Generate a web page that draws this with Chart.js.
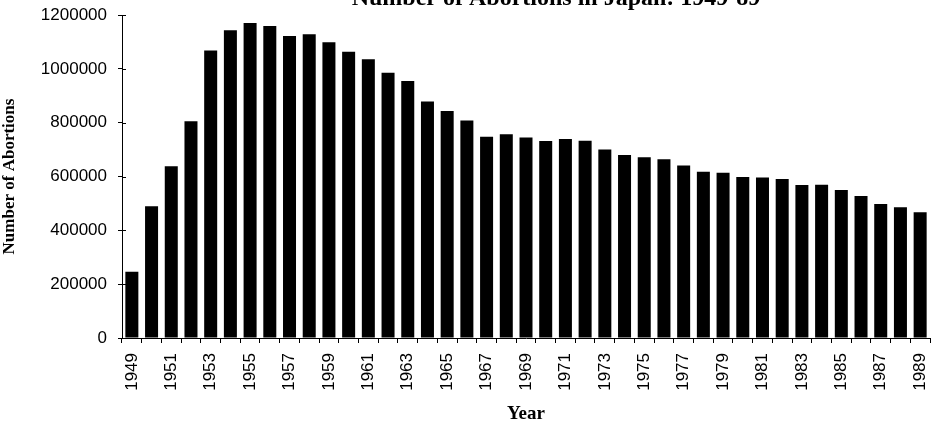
<!DOCTYPE html>
<html>
<head>
<meta charset="utf-8">
<script src="https://cdn.jsdelivr.net/npm/chart.js@4.4.1/dist/chart.umd.min.js"></script>
<style>
    html, body { margin: 0; padding: 0; background: #fff; }
    #wrap { width: 932px; height: 426px; position: relative; }
</style>
</head>
<body>
<div id="wrap"><canvas id="abortions-chart"></canvas></div>
<script>
    // data
    var years = [];
    for (var y = 1949; y <= 1989; y++) { years.push(String(y)); }

    var abortions = [
        246104, 489111, 638350, 805524, 1068066, 1143059, 1170143, 1159288,
        1122316, 1128231, 1098853, 1063256, 1035329, 985351, 955092, 878748,
        843248, 808378, 747490, 757389, 744451, 732033, 739674, 732653,
        700532, 679837, 671597, 664106, 641242, 618044, 613676, 598084,
        596569, 590299, 568363, 568916, 550127, 527900, 497756, 486146,
        466876
    ];

    var yTicks = [0, 200000, 400000, 600000, 800000, 1000000, 1200000];

    var chartTitle = 'Number of Abortions in Japan: 1949-89',
        xTitle = 'Year',
        yTitle = 'Number of Abortions';

    var tickFont = { family: '"Liberation Sans", sans-serif', size: 17 },
        titleFamily = '"Liberation Serif", "Times New Roman", serif';

    // title sits partly above the top edge in the reference
    var topTitle = {
        id: 'topTitle',
        afterDraw: function (chart) {
            var ctx = chart.ctx;
            ctx.save();
            ctx.fillStyle = '#000';
            ctx.font = 'bold 24px ' + titleFamily;
            ctx.textAlign = 'center';
            ctx.textBaseline = 'alphabetic';
            ctx.fillText(chartTitle, 556, 5);
            ctx.restore();
        }
    };

    // y ticks cross the axis line: draw the inner half
    var innerTicks = {
        id: 'innerTicks',
        afterDatasetsDraw: function (chart) {
            var ctx = chart.ctx,
                yScale = chart.scales.y;
            ctx.save();
            ctx.strokeStyle = '#000';
            ctx.lineWidth = 1;
            yTicks.forEach(function (v) {
                var py = Math.round(yScale.getPixelForValue(v)) + 0.5;
                ctx.beginPath();
                ctx.moveTo(yScale.right, py);
                ctx.lineTo(yScale.right + 4, py);
                ctx.stroke();
            });
            ctx.restore();
        }
    };

    var ctx = document.getElementById('abortions-chart');
    new Chart(ctx, {
        type: 'bar',
        data: {
            labels: years,
            datasets: [{
                label: yTitle,
                data: abortions,
                backgroundColor: '#000',
                borderWidth: 0,
                barPercentage: 0.66,
                categoryPercentage: 1.0
            }]
        },
        options: {
            responsive: true,
            maintainAspectRatio: false,
            animation: false,
            layout: { padding: { top: 15, right: 2, left: 0, bottom: 0 } },
            plugins: {
                legend: { display: false },
                tooltip: { enabled: false },
                title: { display: false }
            },
            scales: {
                x: {
                    offset: true,
                    grid: {
                        offset: true,
                        drawOnChartArea: false,
                        drawTicks: true,
                        tickLength: 5,
                        color: '#000'
                    },
                    border: { display: true, color: '#000', width: 1 },
                    ticks: {
                        autoSkip: false,
                        minRotation: 90,
                        maxRotation: 90,
                        padding: 10,
                        color: '#000',
                        font: tickFont,
                        callback: function (val, i) {
                            return i % 2 === 0 ? years[i] : '';
                        }
                    },
                    title: {
                        display: true,
                        text: xTitle,
                        color: '#000',
                        font: { family: titleFamily, size: 19, weight: 'bold', lineHeight: 1.2 },
                        padding: { top: 0, bottom: 1 }
                    },
                    afterFit: function (scale) {
                        scale.height = 88;
                        scale.paddingLeft = 0;
                        scale.paddingRight = 0;
                    }
                },
                y: {
                    min: 0,
                    max: 1200000,
                    grid: {
                        drawOnChartArea: false,
                        drawTicks: true,
                        tickLength: 4,
                        color: '#000'
                    },
                    border: { display: true, color: '#000', width: 1 },
                    ticks: {
                        stepSize: 200000,
                        padding: 11,
                        color: '#000',
                        font: tickFont,
                        callback: function (v) { return String(v); }
                    },
                    title: {
                        display: true,
                        text: yTitle,
                        color: '#000',
                        font: { family: titleFamily, size: 17, weight: 'bold', lineHeight: 1.1 },
                        padding: 0
                    },
                    afterFit: function (scale) {
                        scale.width = 122;
                        scale.paddingTop = 0;
                        scale.paddingBottom = 0;
                    }
                }
            }
        },
        plugins: [topTitle, innerTicks]
    });
</script>
</body>
</html>
